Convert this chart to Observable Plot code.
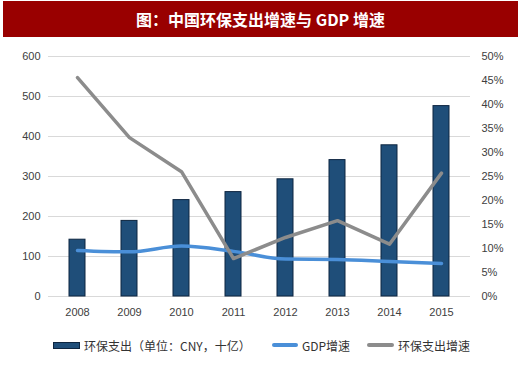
<!DOCTYPE html>
<html>
<head>
<meta charset="utf-8">
<script src="https://cdn.jsdelivr.net/npm/d3@7"></script>
<script src="https://cdn.jsdelivr.net/npm/@observablehq/plot@0.6"></script>
<style>
  html, body { margin: 0; padding: 0; background: #fff; }
  body { width: 520px; height: 368px; position: relative; overflow: hidden;
         font-family: "Liberation Sans", "Noto Sans CJK SC", sans-serif; }
  #title { position: absolute; left: 3px; top: 1px; width: 515px; height: 36px;
           background: #990000; color: #fff; font-weight: bold; font-size: 16px;
           font-family: "Noto Sans CJK SC", sans-serif;
           display: flex; align-items: center; justify-content: center; }
  #chart { position: absolute; left: 0; top: 38px; }
  #legend { position: absolute; left: 0; top: 337px; width: 520px; height: 16px;
            font-size: 12px; color: #333; font-family: "Noto Sans CJK SC", sans-serif; }
  .item { position: absolute; top: 0; height: 16px; display: flex; align-items: center; white-space: nowrap; }
  .sw { display: inline-block; margin-right: 4px; }
</style>
</head>
<body>
<div id="title">图：中国环保支出增速与 GDP 增速</div>
<div id="chart"></div>
<div id="legend"></div>
<script>
const years = ["2008", "2009", "2010", "2011", "2012", "2013", "2014", "2015"];
const spending = [142, 189, 241, 261, 293, 341, 378, 476];       // 十亿 CNY
const gdpGrowth = [9.6, 9.3, 10.5, 9.4, 7.8, 7.7, 7.3, 6.9];      // %
const spendGrowth = [45.6, 33.1, 26.0, 7.9, 12.3, 15.8, 10.9, 25.7]; // %
const leftTicks = [0, 100, 200, 300, 400, 500, 600];
const rightTicks = [0, 5, 10, 15, 20, 25, 30, 35, 40, 45, 50];
const legendLabels = ["环保支出（单位：CNY，十亿）", "GDP增速", "环保支出增速"];

const barFill = "#1f4e79", barStroke = "#0d2540";
const blue = "#4a8fd8", grey = "#8c8c8c";
const k = 600 / 50; // right axis % -> left units

const data = years.map((y, i) => ({year: y, spend: spending[i], gdp: gdpGrowth[i], sg: spendGrowth[i]}));

const chart = Plot.plot({
  width: 520, height: 300,
  marginTop: 18, marginBottom: 42, marginLeft: 48, marginRight: 50,
  style: {fontSize: "11px", fontFamily: "Liberation Sans, sans-serif", color: "#404040", background: "transparent"},
  x: {type: "band", domain: years, paddingInner: 0.7, paddingOuter: 0.35, label: null},
  y: {domain: [0, 600], label: null},
  marks: [
    Plot.ruleY(leftTicks, {stroke: "#d9d9d9", strokeWidth: 1}),
    Plot.barY(data, {x: "year", y: "spend", fill: barFill, stroke: barStroke, strokeWidth: 1}),
    Plot.line(data, {x: "year", y: d => d.gdp * k, stroke: blue, strokeWidth: 3.5, curve: "monotone-x"}),
    Plot.line(data, {x: "year", y: d => d.sg * k, stroke: grey, strokeWidth: 3.5}),
    Plot.axisY(leftTicks, {anchor: "left", tickSize: 0, tickPadding: 8, label: null}),
    Plot.axisY(rightTicks.map(d => d * k), {anchor: "right", tickSize: 0, tickPadding: 11, label: null, tickFormat: d => Math.round(d / k) + "%"}),
    Plot.axisX({tickSize: 0, tickPadding: 12, label: null})
  ]
});
document.getElementById("chart").appendChild(chart);

// legend
const legend = document.getElementById("legend");
const items = [
  {left: 53, label: legendLabels[0], sw: `<span class="sw" style="width:25px;height:5px;background:${barFill};border:1px solid ${barStroke};"></span>`},
  {left: 272, label: legendLabels[1], sw: `<span class="sw" style="width:26px;height:3.5px;background:${blue};border-radius:2px;"></span>`},
  {left: 367, label: legendLabels[2], sw: `<span class="sw" style="width:27px;height:3.5px;background:${grey};border-radius:2px;"></span>`}
];
for (const it of items) {
  const d = document.createElement("div");
  d.className = "item";
  d.style.left = it.left + "px";
  d.innerHTML = it.sw + `<span>${it.label}</span>`;
  legend.appendChild(d);
}
</script>
</body>
</html>
